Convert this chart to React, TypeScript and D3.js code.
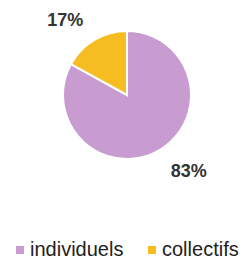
import { useEffect, useRef } from 'react';
import * as d3 from 'd3';

const categories = ['individuels', 'collectifs'];
const values = [83, 17];
const colors = ['#c89cd1', '#f6bd22'];

type Slice = { label: string; value: number };

const App = () => {
  const svgRef = useRef<SVGSVGElement>(null);

  useEffect(() => {
    const width = 245;
    const height = 259;
    const cx = 127;
    const cy = 95;
    const radius = 64;

    const svg = d3.select(svgRef.current);
    svg.selectAll('*').remove();
    svg.attr('width', width).attr('height', height);

    const data: Slice[] = categories.map((c, i) => ({ label: c, value: values[i] }));
    const pie = d3.pie<Slice>().sort(null).value(d => d.value);
    const arc = d3.arc<d3.PieArcDatum<Slice>>().innerRadius(0).outerRadius(radius);

    const arcs = pie(data);
    const g = svg.append('g').attr('transform', `translate(${cx},${cy})`);

    g.selectAll('path')
      .data(arcs)
      .join('path')
      .attr('d', arc)
      .attr('fill', (_, i) => colors[i])
      .attr('stroke', '#fff')
      .attr('stroke-width', 2);

    // percentage labels outside the pie, pushed sideways like the original
    const labelArc = d3.arc<d3.PieArcDatum<Slice>>()
      .innerRadius(radius + 24)
      .outerRadius(radius + 24);

    g.selectAll('text.pct')
      .data(arcs)
      .join('text')
      .attr('class', 'pct')
      .attr('x', d => {
        const [x] = labelArc.centroid(d);
        return x + Math.sign(x) * 17;
      })
      .attr('y', d => labelArc.centroid(d)[1])
      .attr('dy', '0.35em')
      .attr('text-anchor', 'middle')
      .attr('font-family', 'Liberation Sans, Arial, sans-serif')
      .attr('font-weight', 'bold')
      .attr('font-size', 18)
      .attr('fill', '#333')
      .text(d => `${d.data.value}%`);

    // legend
    const legendX = [16, 148];
    const items = svg.append('g')
      .selectAll('g')
      .data(categories)
      .join('g')
      .attr('transform', (_, i) => `translate(${legendX[i]},256)`);

    items.append('rect')
      .attr('x', 0)
      .attr('y', -10)
      .attr('width', 8)
      .attr('height', 8)
      .attr('fill', (_, i) => colors[i]);

    items.append('text')
      .attr('x', 14)
      .attr('y', 0)
      .attr('font-family', 'Liberation Sans, Arial, sans-serif')
      .attr('font-size', 20)
      .attr('fill', '#222')
      .text(d => d);
  }, []);

  return (
    <div style={{ position: 'absolute', left: 0, top: 0 }}>
      <svg ref={svgRef}></svg>
    </div>
  );
};

export default App;
